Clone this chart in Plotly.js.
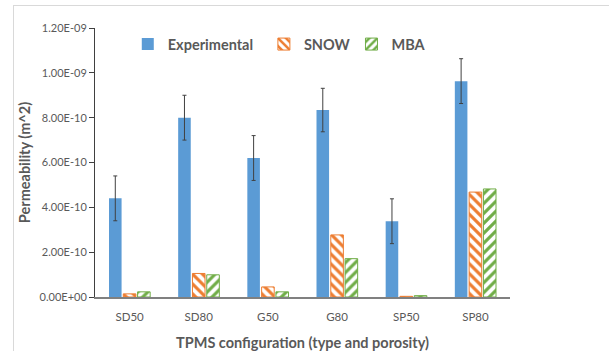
<!DOCTYPE html>
<html>
<head>
<meta charset="utf-8">
<script src="https://cdn.plot.ly/plotly-3.0.1.min.js"></script>
<style>
  html, body { margin: 0; padding: 0; background: #fff; overflow: hidden; }
  #chart { width: 609px; height: 351px; }
  #frame { position: absolute; left: 13px; top: 5px; width: 700px; height: 400px;
           border: 1px solid #d9d9d9; pointer-events: none; }
</style>
</head>
<body>
<div id="chart"></div>
<div id="frame"></div>
<script>
const categories = ["SD50", "SD80", "G50", "G80", "SP50", "SP80"];
const experimental = [4.4e-10, 8.0e-10, 6.2e-10, 8.34e-10, 3.38e-10, 9.63e-10];
const experimentalErr = [1.0e-10, 1.0e-10, 1.0e-10, 0.97e-10, 1.0e-10, 1.0e-10];
const snow = [1.4e-11, 1.05e-10, 4.5e-11, 2.77e-10, 3e-12, 4.68e-10];
const mba = [2.3e-11, 9.9e-11, 2.3e-11, 1.71e-10, 6e-12, 4.82e-10];
const yTickVals = [0, 2e-10, 4e-10, 6e-10, 8e-10, 1e-9, 1.2e-9];
const yTickText = ["0.00E+00", "2.00E-10", "4.00E-10", "6.00E-10", "8.00E-10", "1.00E-09", "1.20E-09"];

const FONT = "Lato, 'Open Sans', sans-serif";
const GRAY = "#595959";

const traces = [
  {
    type: "bar", name: "Experimental", x: categories, y: experimental,
    marker: { color: "#5B9BD5" },
    error_y: { type: "data", array: experimentalErr, visible: true, color: "#404040", thickness: 1, width: 2 },
    legend: "legend"
  },
  {
    type: "bar", name: "SNOW", x: categories, y: snow,
    marker: { color: "#ED7D31", line: { color: "#ED7D31", width: 1 },
      pattern: { shape: "\\", fillmode: "replace", fgcolor: "#ED7D31", bgcolor: "#ffffff", size: 7, solidity: 0.45 } },
    legend: "legend2"
  },
  {
    type: "bar", name: "MBA", x: categories, y: mba,
    marker: { color: "#70AD47", line: { color: "#70AD47", width: 1 },
      pattern: { shape: "/", fillmode: "replace", fgcolor: "#70AD47", bgcolor: "#ffffff", size: 7, solidity: 0.45 } },
    legend: "legend3"
  }
];

const legendBase = { orientation: "h", xanchor: "left", yanchor: "middle", y: 0.94,
  bgcolor: "rgba(0,0,0,0)", font: { family: FONT, size: 14.5, color: GRAY, weight: "bold" },
  itemwidth: 30, tracegroupgap: 0 };

const layout = {
  width: 609, height: 351,
  margin: { l: 95, r: 99, t: 28, b: 54 },
  paper_bgcolor: "#ffffff", plot_bgcolor: "#ffffff",
  font: { family: FONT, color: GRAY },
  barmode: "group", bargap: 0.38, bargroupgap: 0.12,
  showlegend: true,
  legend: Object.assign({}, legendBase, { x: 0.079 }),
  legend2: Object.assign({}, legendBase, { x: 0.407 }),
  legend3: Object.assign({}, legendBase, { x: 0.618 }),
  xaxis: {
    type: "category", showgrid: false, zeroline: false,
    showline: true, linecolor: "#808080", linewidth: 2,
    ticks: "", ticklabelstandoff: 8, tickfont: { family: FONT, size: 11.5, color: GRAY },
    title: { text: "TPMS configuration (type and porosity)", font: { family: FONT, size: 14.5, color: GRAY, weight: "bold" }, standoff: 16 }
  },
  yaxis: {
    range: [0, 1.2e-9], showgrid: false, zeroline: false,
    showline: true, linecolor: "#404040", linewidth: 1,
    ticks: "outside", ticklen: 5, tickcolor: "#404040",
    tickvals: yTickVals, ticktext: yTickText,
    tickfont: { family: FONT, size: 11, color: GRAY },
    title: { text: "Permeability (m^2)", font: { family: FONT, size: 14.5, color: GRAY, weight: "bold" }, standoff: 5 }
  }
};

Plotly.newPlot("chart", traces, layout, { displayModeBar: false, staticPlot: true });
</script>
</body>
</html>
